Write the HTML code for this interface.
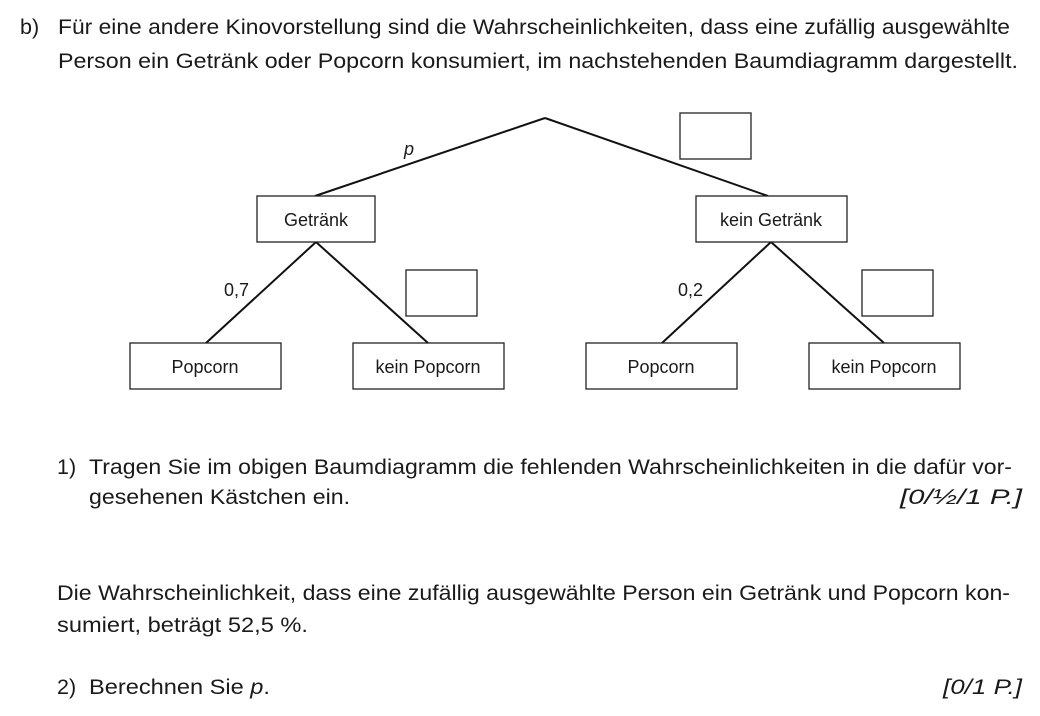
<!DOCTYPE html>
<html><head><meta charset="utf-8"><style>
html,body{margin:0;padding:0;background:#fff;}
svg{display:block;}
text{font-family:"Liberation Sans",sans-serif;font-size:21.5px;fill:#1a1a1a;}
.s{font-size:18px;}
</style></head><body>
<svg width="1040" height="716" viewBox="0 0 1040 716">
<text x="20" y="34">b)</text>
<text x="58" y="34" textLength="952" lengthAdjust="spacingAndGlyphs">Für eine andere Kinovorstellung sind die Wahrscheinlichkeiten, dass eine zufällig ausgewählte</text>
<text x="58" y="68" textLength="960" lengthAdjust="spacingAndGlyphs">Person ein Getränk oder Popcorn konsumiert, im nachstehenden Baumdiagramm dargestellt.</text>

<g stroke="#111" stroke-width="2" fill="none">
<line x1="545" y1="118" x2="315" y2="196"/>
<line x1="545" y1="118" x2="768" y2="196"/>
<line x1="316" y1="242" x2="206" y2="343"/>
<line x1="316" y1="242" x2="428" y2="343"/>
<line x1="771" y1="242" x2="662" y2="343"/>
<line x1="771" y1="242" x2="884" y2="343"/>
</g>
<g stroke="#222" stroke-width="1.3" fill="#fff">
<rect x="257" y="196" width="118" height="46"/>
<rect x="696" y="196" width="151" height="46"/>
<rect x="130" y="343" width="151" height="46"/>
<rect x="353" y="343" width="151" height="46"/>
<rect x="586" y="343" width="151" height="46"/>
<rect x="809" y="343" width="151" height="46"/>
<rect x="680" y="113" width="71" height="46"/>
<rect x="406" y="270" width="71" height="46"/>
<rect x="862" y="270" width="71" height="46"/>
</g>
<g text-anchor="middle">
<text class="s" x="316" y="226">Getränk</text>
<text class="s" x="771" y="226">kein Getränk</text>
<text class="s" x="205" y="373">Popcorn</text>
<text class="s" x="428" y="373">kein Popcorn</text>
<text class="s" x="661" y="373">Popcorn</text>
<text class="s" x="884" y="373">kein Popcorn</text>
</g>
<text class="s" x="404" y="155" font-style="italic">p</text>
<text class="s" x="224" y="296">0,7</text>
<text class="s" x="678" y="296">0,2</text>

<text x="57" y="474">1)</text>
<text x="89" y="474" textLength="923" lengthAdjust="spacingAndGlyphs">Tragen Sie im obigen Baumdiagramm die fehlenden Wahrscheinlichkeiten in die dafür vor-</text>
<text x="89" y="504" textLength="261" lengthAdjust="spacingAndGlyphs">gesehenen Kästchen ein.</text>
<text x="900" y="504" textLength="122" lengthAdjust="spacingAndGlyphs" font-style="italic">[0/½/1 P.]</text>

<text x="57" y="600" textLength="953" lengthAdjust="spacingAndGlyphs">Die Wahrscheinlichkeit, dass eine zufällig ausgewählte Person ein Getränk und Popcorn kon-</text>
<text x="57" y="632" textLength="251" lengthAdjust="spacingAndGlyphs">sumiert, beträgt 52,5 %.</text>

<text x="57" y="694">2)</text>
<text x="89" y="694" textLength="181" lengthAdjust="spacingAndGlyphs">Berechnen Sie <tspan font-style="italic">p</tspan>.</text>
<text x="943" y="694" textLength="79" lengthAdjust="spacingAndGlyphs" font-style="italic">[0/1 P.]</text>
</svg>
</body></html>
